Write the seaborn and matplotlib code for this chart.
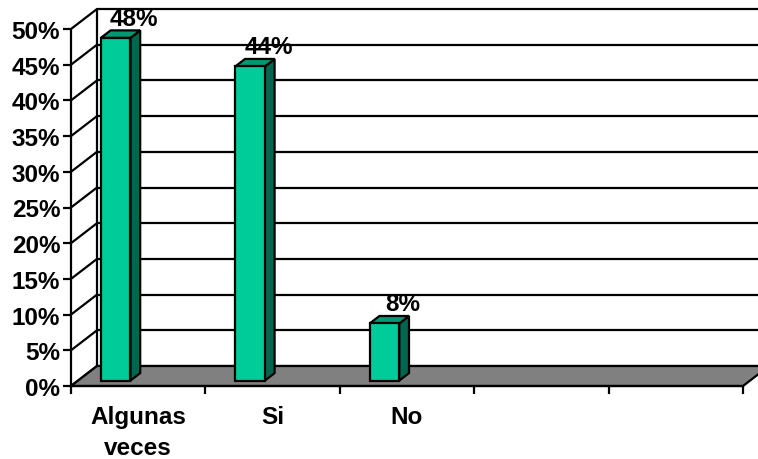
import numpy as np
import pandas as pd
import matplotlib
matplotlib.use("Agg")
import matplotlib.pyplot as plt
from matplotlib.patches import Polygon
import seaborn as sns

# Survey answers and their shares (%)
categories = ["Algunas veces", "Si", "No"]
values = [48, 44, 8]
tick_labels = ["Algunas\nveces", "Si", "No"]
y_ticks = list(range(0, 51, 5))

n_slots = 5            # the category axis reserves five slots
front_col = "#00CC99"
top_col = "#009973"
side_col = "#00664D"
floor_col = "#808080"

# pseudo-3D geometry in data units
DX, DY = 0.1935, 2.8          # full depth of the floor / walls
bar_w = 0.22
bar_shift = -0.22             # bar centre relative to category centre
bar_d0, bar_d = 0.27, 0.375   # bar depth start and thickness (fraction of depth)

FS = 17.5

sns.set_theme(style="white")
plt.rcParams["font.family"] = ["Liberation Sans", "DejaVu Sans"]
plt.rcParams["font.weight"] = "bold"
plt.rcParams["text.color"] = "black"

W, H = 758, 460
fig = plt.figure(figsize=(W / 100, H / 100), dpi=100)
px_cat = 134.4
px_pct = 7.14
y_lo = -1.0
ax_left = 71
ax_bottom_px = 387 + (-y_lo) * px_pct
x_hi = -0.5 + (W - ax_left) / px_cat
y_hi = 387 / px_pct
ax = fig.add_axes([ax_left / W, (H - ax_bottom_px) / H,
                   (W - ax_left) / W, ax_bottom_px / H])

df = pd.DataFrame({"cat": categories, "val": values})
sns.barplot(data=df, x="cat", y="val", order=categories, width=bar_w,
            color=front_col, saturation=1, edgecolor="black", linewidth=1.6,
            errorbar=None, ax=ax, zorder=4)

lw = 1.6
# walls: left-wall diagonals and back-wall gridlines
for t in y_ticks:
    ax.plot([-0.5, -0.5 + DX], [t, t + DY], color="black", lw=lw, zorder=1,
            solid_capstyle="butt")
    ax.plot([-0.5 + DX, n_slots - 0.5 + DX], [t + DY, t + DY], color="black",
            lw=lw, zorder=1, solid_capstyle="butt")
ax.plot([-0.5 + DX, -0.5 + DX], [DY, y_ticks[-1] + DY], color="black", lw=lw,
        zorder=1)

# floor
floor = Polygon([(-0.5, 0), (n_slots - 0.5, 0), (n_slots - 0.5 + DX, DY),
                 (-0.5 + DX, DY)], closed=True, facecolor=floor_col,
                edgecolor="black", lw=lw, zorder=2)
ax.add_patch(floor)

# bars: move front faces into place and add side / top faces
bdx, bdy = bar_d * DX, bar_d * DY
for patch, v in zip(ax.patches[:len(values)], values):
    x = patch.get_x() + bar_shift + bar_d0 * DX
    y0 = bar_d0 * DY
    w = patch.get_width()
    h = patch.get_height()
    patch.set_x(x)
    patch.set_y(y0)
    side = Polygon([(x + w, y0), (x + w + bdx, y0 + bdy),
                    (x + w + bdx, y0 + h + bdy), (x + w, y0 + h)],
                   closed=True, facecolor=side_col, edgecolor="black",
                   lw=1.6, zorder=3.5, joinstyle="miter")
    top = Polygon([(x, y0 + h), (x + bdx, y0 + h + bdy),
                   (x + w + bdx, y0 + h + bdy), (x + w, y0 + h)],
                  closed=True, facecolor=top_col, edgecolor="black",
                  lw=1.6, zorder=3.5, joinstyle="miter")
    ax.add_patch(side)
    ax.add_patch(top)

# value labels
for i, v in enumerate(values):
    ax.annotate(f"{v}%", xy=(i - 0.03, v + (bar_d0 + bar_d) * DY),
                xytext=(0, 4), textcoords="offset points", ha="center",
                va="baseline", fontsize=FS, fontweight="bold", color="black",
                zorder=6)

ax.set_xlim(-0.5, x_hi)
ax.set_ylim(y_lo, y_hi)

# axes lines
for s in ["top", "right"]:
    ax.spines[s].set_visible(False)
ax.spines["left"].set_position(("data", -0.5))
ax.spines["left"].set_bounds(0, y_ticks[-1])
ax.spines["bottom"].set_position(("data", 0))
ax.spines["bottom"].set_bounds(-0.5, n_slots - 0.5)
for s in ["left", "bottom"]:
    ax.spines[s].set_color("black")
    ax.spines[s].set_linewidth(lw)
    ax.spines[s].set_zorder(7)

ax.set_yticks(y_ticks)
ax.set_yticklabels([f"{t}%" for t in y_ticks])
ax.tick_params(axis="y", direction="out", length=5.8, width=lw, pad=2,
               labelsize=FS, colors="black", left=True)
ax.set_xticks(np.arange(n_slots + 1) - 0.5)
ax.set_xticklabels([""] * (n_slots + 1))
ax.set_xticks(np.arange(len(categories)), minor=True)
ax.set_xticklabels(tick_labels, minor=True, fontsize=FS, fontweight="bold",
                   linespacing=1.4)
ax.tick_params(axis="x", which="major", direction="out", length=5.5, width=lw,
               colors="black", bottom=True)
ax.tick_params(axis="x", which="minor", length=0, pad=14, colors="black")
for lab in ax.get_yticklabels():
    lab.set_fontweight("bold")
ax.set_xlabel("")
ax.set_ylabel("")
ax.patch.set_alpha(0)
ax.grid(False)

fig.savefig("out.png", dpi=100, facecolor="white")
